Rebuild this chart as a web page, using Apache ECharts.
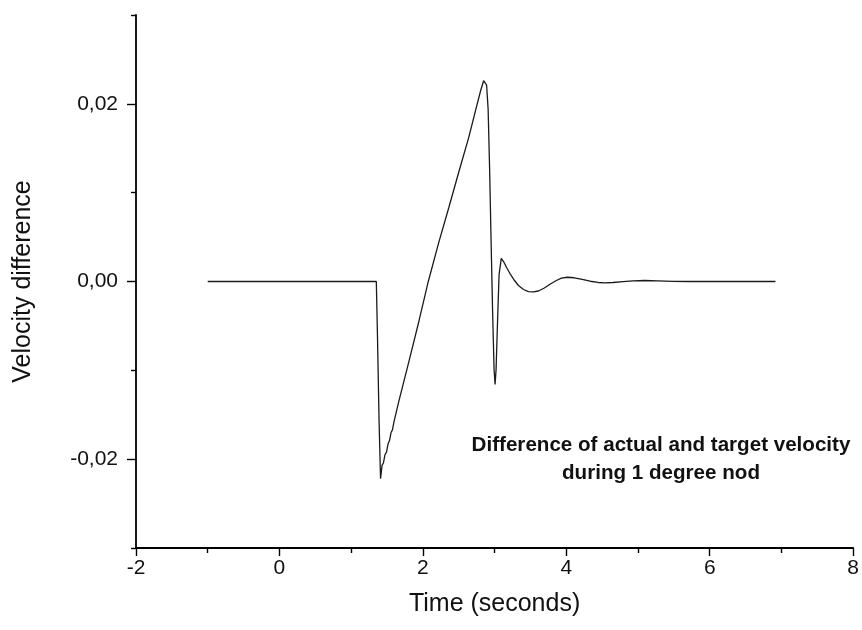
<!DOCTYPE html>
<html>
<head>
<meta charset="utf-8">
<script src="https://cdn.jsdelivr.net/npm/echarts@6/dist/echarts.min.js"></script>
<style>
html,body{margin:0;padding:0;background:#fff;}
#chart{width:862px;height:630px;}
</style>
</head>
<body>
<div id="chart"></div>
<script>
// Time (seconds)
var time = [
  -1.0, 1.351, 1.368, 1.389, 1.410, 1.431, 1.451, 1.472, 1.493, 1.514, 1.535, 1.556, 1.576, 1.597,
  1.667, 1.806, 1.944, 2.069, 2.222, 2.361, 2.5, 2.639, 2.736, 2.806, 2.847, 2.868, 2.889, 2.910,
  2.931, 2.951, 2.972, 2.993, 3.007, 3.021, 3.042, 3.063, 3.093, 3.125, 3.167, 3.222, 3.278, 3.333, 3.403,
  3.472, 3.542, 3.611, 3.694, 3.778, 3.861, 3.931, 4.018, 4.111, 4.222, 4.333, 4.444, 4.538, 4.653,
  4.792, 4.931, 5.093, 5.278, 5.486, 5.694, 6.917
];
// Velocity difference
var velocity = [
  0, 0, -0.0065, -0.0156, -0.0222, -0.0207, -0.0204, -0.0195, -0.0192, -0.0183, -0.0179, -0.0170, -0.0167, -0.0158,
  -0.0134, -0.0090, -0.0045, -0.0002, 0.0044, 0.0083, 0.0123, 0.0162, 0.0193, 0.0215, 0.0226, 0.0228, 0.0221, 0.0194,
  0.0126, 0.0047, -0.0032, -0.0099, -0.0116, -0.0099, -0.0043, 0.0008, 0.0026, 0.00225, 0.00158, 0.00079, 0.00011, -0.00045, -0.0009,
  -0.00113, -0.00116, -0.00107, -0.00073, -0.00028, 0.00011, 0.00037, 0.00048, 0.00042, 0.00023, 0.00003, -0.00011, -0.00015, -0.00011,
  -0.00002, 0.00007, 0.00011, 0.00008, 0.00002, 0, 0
];
var xTicks = [-2, 0, 2, 4, 6, 8];
var yMajorTicks = [-0.02, 0, 0.02];
var yMinorTicks = [-0.03, -0.01, 0.01, 0.03];
var annotation = ['Difference of actual and target velocity', 'during 1 degree nod'];
var xName = 'Time (seconds)';
var yName = 'Velocity difference';

var seriesData = time.map(function (t, i) { return [t, velocity[i]]; });
function fmtY(v) { return (Math.abs(v) < 1e-9 ? 0 : v).toFixed(2).replace('.', ','); }

var chart = echarts.init(document.getElementById('chart'), null, {renderer: 'canvas'});
var font = 'Liberation Sans, Arial, sans-serif';
chart.setOption({
  animation: false,
  backgroundColor: '#fff',
  grid: {left: 136, right: 6, top: 15, bottom: 82, containLabel: false},
  xAxis: {
    type: 'value', min: xTicks[0], max: xTicks[xTicks.length - 1], interval: 2,
    name: xName, nameLocation: 'middle', nameGap: 44,
    nameTextStyle: {fontFamily: font, fontSize: 25, color: '#111'},
    axisLine: {onZero: false, lineStyle: {color: '#000', width: 1.8}},
    axisTick: {show: true, inside: false, length: 8, lineStyle: {color: '#000', width: 1.4}},
    minorTick: {show: true, splitNumber: 2, length: 5, lineStyle: {color: '#000', width: 1.4}},
    axisLabel: {fontFamily: font, fontSize: 21, color: '#111', margin: 10},
    splitLine: {show: false}, minorSplitLine: {show: false}
  },
  yAxis: [{
    type: 'value', min: -0.03, max: 0.03,
    name: yName, nameLocation: 'middle', nameGap: 100,
    nameTextStyle: {fontFamily: font, fontSize: 25, color: '#111'},
    axisLine: {onZero: false, lineStyle: {color: '#000', width: 1.8}},
    axisTick: {show: true, inside: false, length: 9, customValues: yMajorTicks, lineStyle: {color: '#000', width: 1.4}},
    axisLabel: {fontFamily: font, fontSize: 21, color: '#111', margin: 18, customValues: yMajorTicks, formatter: fmtY},
    splitLine: {show: false}
  }, {
    type: 'value', min: -0.03, max: 0.03, position: 'left',
    axisLine: {show: false, onZero: false},
    axisTick: {show: true, inside: false, length: 5, customValues: yMinorTicks, lineStyle: {color: '#000', width: 1.4}},
    axisLabel: {show: false},
    splitLine: {show: false}
  }],
  graphic: [{
    type: 'text', x: 661, y: 431,
    style: {
      text: annotation.join('\n'), textAlign: 'center',
      font: 'bold 20.6px ' + font, fill: '#111', lineHeight: 28
    }
  }],
  series: [{
    type: 'line', data: seriesData, yAxisIndex: 0,
    showSymbol: false, symbol: 'none',
    lineStyle: {color: '#1a1a1a', width: 1.3},
    silent: true
  }]
});
</script>
</body>
</html>
